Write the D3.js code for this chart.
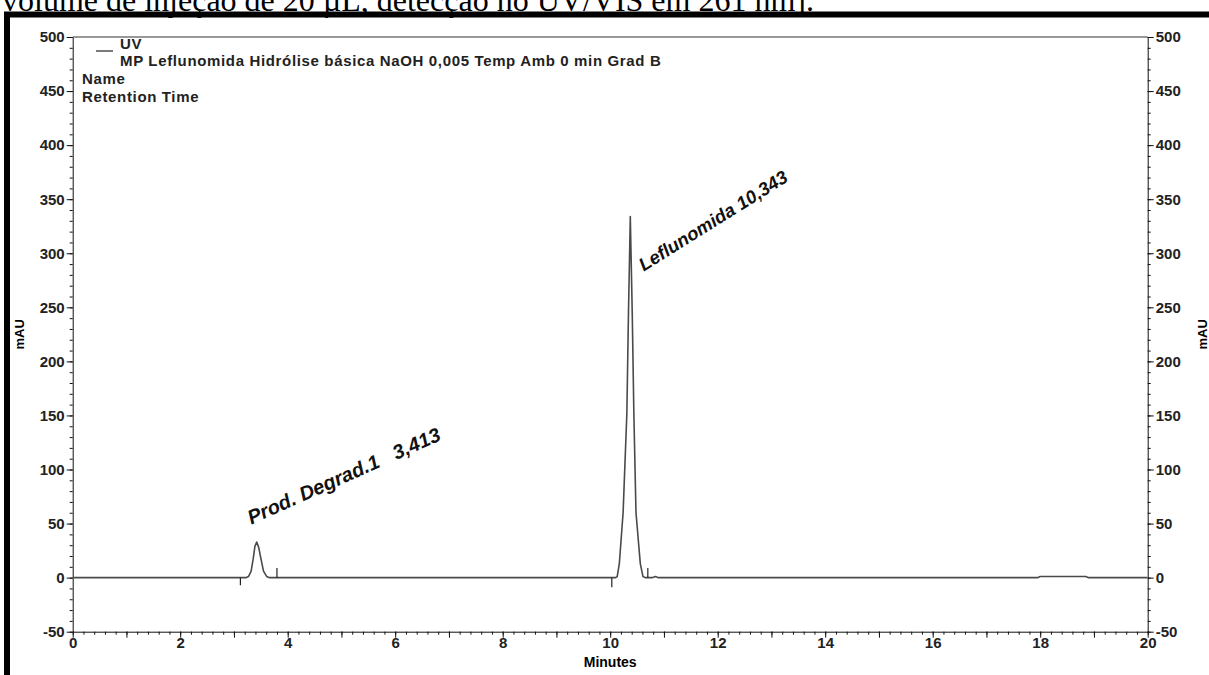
<!DOCTYPE html>
<html>
<head>
<meta charset="utf-8">
<script src="https://cdn.jsdelivr.net/npm/d3@7"></script>
<style>
  body { margin: 0; background: #fff; }
  svg { display: block; font-family: "Liberation Sans", Arial, sans-serif; }
  .axis text { font-weight: bold; font-size: 15px; fill: #222; }
  .axis path, .axis line { stroke: #111; }
</style>
</head>
<body>
<svg id="chart"></svg>
<script>
// chromatogram trace (minutes, mAU)
const traceTimes = [0, 3.22, 3.27, 3.32, 3.36, 3.39, 3.423, 3.46, 3.50, 3.55, 3.61, 3.66,
    10.10, 10.13, 10.17, 10.24, 10.31, 10.34, 10.374, 10.41, 10.44, 10.48, 10.56, 10.61, 10.65,
    10.78, 10.84, 10.90, 17.95, 18.0, 18.85, 18.9, 20];
const traceValues = [0, 0, 1, 6, 18, 29, 33, 28, 18, 6, 1, 0,
    0, 1, 13, 60, 152, 245, 334, 245, 152, 60, 13, 1, 0,
    0, 1, 0, 0, 1, 1, 0, 0];

// integration marks (minutes, mAU length)
const markTimes = [3.12, 3.80, 10.03, 10.70];
const markValues = [-7, 9, -9, 9];

const peakLabels = ["Prod. Degrad.1   3,413", "Leflunomida 10,343"];
const peakLabelTimes = [3.413, 10.343];

const yMajor = [-50, 0, 50, 100, 150, 200, 250, 300, 350, 400, 450, 500];
const xLabels = [0, 2, 4, 6, 8, 10, 12, 14, 16, 18, 20];

const legendLines = ["UV", "MP Leflunomida Hidrólise básica NaOH 0,005 Temp Amb 0 min Grad B"];
const infoLines = ["Name", "Retention Time"];

const width = 1209, height = 675;
const padLeft = 72.7, padRight = 1147.7, padTop = 37, padBottom = 631.7;

const svg = d3.select("#chart").attr("width", width).attr("height", height);
svg.append("rect").attr("width", width).attr("height", height).attr("fill", "#fff");

const x = d3.scaleLinear().domain([0, 20]).range([padLeft, padRight]);
const y = d3.scaleLinear().domain([-50, 500]).range([padBottom, padTop]);

// document caption, cut at the top like the scanned page
svg.append("text")
    .attr("x", 2).attr("y", 11)
    .attr("font-family", "'Liberation Serif', 'Times New Roman', serif")
    .attr("font-size", 32)
    .attr("fill", "#000")
    .text("volume de injeção de 20 µL, detecção no UV/VIS em 261 nm].");

// outer black frame
svg.append("path")
    .attr("d", `M7,${height + 5} V14.5 H${width + 5}`)
    .attr("fill", "none").attr("stroke", "#000").attr("stroke-width", 6);

// minor ticks
const yMinor = d3.range(-50, 501, 10);
const xMinor = d3.range(0, 20.01, 0.2);
const plain = (d) => String(d);

svg.append("g").attr("class", "axis").attr("transform", `translate(${padLeft},0)`)
    .call(d3.axisLeft(y).tickValues(yMinor).tickSize(3).tickFormat("").tickSizeOuter(0));
svg.append("g").attr("class", "axis").attr("transform", `translate(${padRight},0)`)
    .call(d3.axisRight(y).tickValues(yMinor).tickSize(3).tickFormat("").tickSizeOuter(0));
svg.append("g").attr("class", "axis").attr("transform", `translate(0,${padBottom})`)
    .call(d3.axisBottom(x).tickValues(xMinor).tickSize(3).tickFormat("").tickSizeOuter(0));

svg.append("g").attr("class", "axis")
    .attr("transform", `translate(${padLeft},0)`)
    .call(d3.axisLeft(y).tickValues(yMajor).tickSize(6).tickPadding(2).tickFormat(plain))
    .call((g) => g.select(".domain").remove());
svg.append("g").attr("class", "axis")
    .attr("transform", `translate(${padRight},0)`)
    .call(d3.axisRight(y).tickValues(yMajor).tickSize(6).tickPadding(2).tickFormat(plain))
    .call((g) => g.select(".domain").remove());
svg.append("g").attr("class", "axis")
    .attr("transform", `translate(0,${padBottom})`)
    .call(d3.axisBottom(x).tickValues(d3.range(0, 21, 1)).tickSize(6).tickFormat(""))
    .call((g) => g.select(".domain").remove());
svg.append("g").attr("class", "axis")
    .attr("transform", `translate(0,${padBottom})`)
    .call(d3.axisBottom(x).tickValues(xLabels).tickSize(0).tickPadding(6).tickFormat(plain))
    .call((g) => g.select(".domain").remove());

// top border
svg.append("line")
    .attr("x1", padLeft).attr("x2", padRight).attr("y1", padTop).attr("y2", padTop)
    .attr("stroke", "#333").attr("stroke-width", 1.2);

// axis titles
svg.append("text")
    .attr("transform", `translate(24,${(padTop + padBottom) / 2}) rotate(-90)`)
    .attr("text-anchor", "middle")
    .attr("font-weight", "bold").attr("font-size", 13)
    .text("mAU");
svg.append("text")
    .attr("transform", `translate(1207,${(padTop + padBottom) / 2}) rotate(-90)`)
    .attr("text-anchor", "middle")
    .attr("font-weight", "bold").attr("font-size", 13)
    .text("mAU");
svg.append("text")
    .attr("x", x(10)).attr("y", 667)
    .attr("text-anchor", "middle")
    .attr("font-weight", "bold").attr("font-size", 14)
    .text("Minutes");

// legend
svg.append("line")
    .attr("x1", 96).attr("x2", 113).attr("y1", 51).attr("y2", 51)
    .attr("stroke", "#222").attr("stroke-width", 1.2);
svg.selectAll(".legend")
    .data(legendLines)
    .enter()
    .append("text")
    .attr("class", "legend")
    .attr("x", 120)
    .attr("y", (d, i) => 49 + i * 17)
    .attr("font-weight", "bold").attr("font-size", 15).attr("letter-spacing", 0.65)
    .attr("fill", "#222")
    .text((d) => d);
svg.selectAll(".info")
    .data(infoLines)
    .enter()
    .append("text")
    .attr("class", "info")
    .attr("x", 82)
    .attr("y", (d, i) => 84 + i * 18)
    .attr("font-weight", "bold").attr("font-size", 15).attr("letter-spacing", 0.65)
    .attr("fill", "#222")
    .text((d) => d);

// trace
svg.append("clipPath").attr("id", "plot")
    .append("rect").attr("x", padLeft).attr("y", padTop)
    .attr("width", padRight - padLeft).attr("height", padBottom - padTop);

const points = traceTimes.map((t, i) => [t, traceValues[i]]);
const line = d3.line().x((d) => x(d[0])).y((d) => y(d[1]));

svg.append("path")
    .datum(points)
    .attr("clip-path", "url(#plot)")
    .attr("d", line)
    .attr("fill", "none")
    .attr("stroke", "#4a4a4a")
    .attr("stroke-width", 1.6)
    .attr("stroke-linejoin", "round");

svg.selectAll(".mark")
    .data(markTimes)
    .enter()
    .append("line")
    .attr("class", "mark")
    .attr("x1", (d) => x(d)).attr("x2", (d) => x(d))
    .attr("y1", y(0))
    .attr("y2", (d, i) => y(markValues[i]))
    .attr("stroke", "#222").attr("stroke-width", 1.2);

// peak labels
svg.selectAll(".peak")
    .data(peakLabels)
    .enter()
    .append("text")
    .attr("class", "peak")
    .attr("transform", (d, i) =>
        `translate(${x(peakLabelTimes[i]) + [-5, 15][i]},${y([49, 283][i])}) rotate(${[-24, -32][i]})`)
    .attr("font-weight", "bold").attr("font-style", "italic")
    .attr("font-size", (d, i) => [20, 18.5][i])
    .attr("fill", "#111")
    .style("white-space", "pre")
    .text((d) => d);
</script>
</body>
</html>
